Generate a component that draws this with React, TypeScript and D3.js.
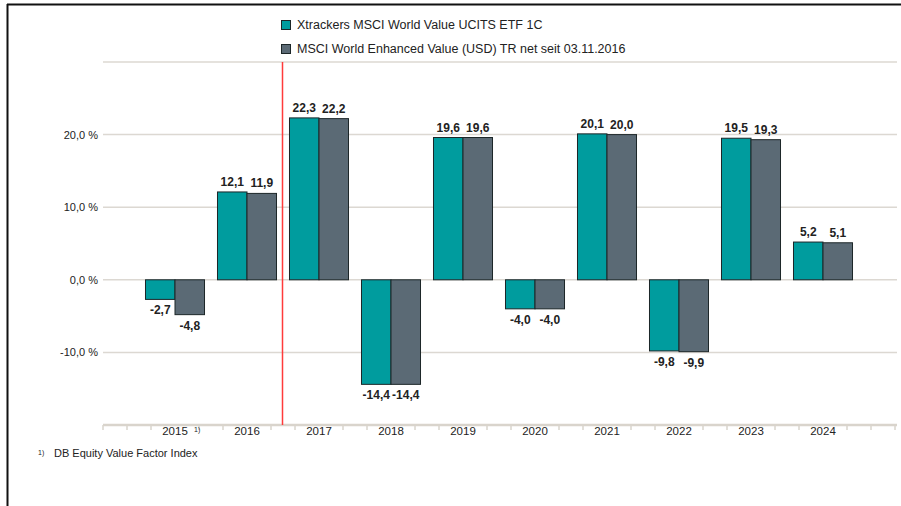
import React, { useRef, useEffect } from 'react';
import * as d3 from 'd3';

const years = ['2015', '2016', '2017', '2018', '2019', '2020', '2021', '2022', '2023', '2024'];
const etfValues = [-2.7, 12.1, 22.3, -14.4, 19.6, -4.0, 20.1, -9.8, 19.5, 5.2];
const indexValues = [-4.8, 11.9, 22.2, -14.4, 19.6, -4.0, 20.0, -9.9, 19.3, 5.1];
const seriesNames = [
  'Xtrackers MSCI World Value UCITS ETF 1C',
  'MSCI World Enhanced Value (USD) TR net seit 03.11.2016',
];
const colors = ['#009c9e', '#5b6a75'];
const yTicks = [-10, 0, 10, 20, 30];
const footnote = 'DB Equity Value Factor Index';

const fmt = (v: number) => v.toFixed(1).replace('.', ',');

const App = () => {
  const ref = useRef<SVGSVGElement>(null);

  useEffect(() => {
    const svg = d3.select(ref.current);
    svg.selectAll('*').remove();
    const font = 'Liberation Sans, Arial, sans-serif';

    const left = 103, right = 897;
    const y = d3.scaleLinear().domain([-20, 30]).range([425, 62]);
    const x0 = d3.scaleBand().domain(years).range([139, 859]).paddingInner(0).paddingOuter(0);
    const step = x0.step();
    const x1 = d3.scaleBand().domain(['0', '1']).range([0, step]).paddingOuter(0.22);

    // frame
    svg.append('line').attr('x1', 7).attr('x2', 901).attr('y1', 4.5).attr('y2', 4.5)
      .attr('stroke', '#111').attr('stroke-width', 2);
    svg.append('line').attr('x1', 7.5).attr('x2', 7.5).attr('y1', 4).attr('y2', 506)
      .attr('stroke', '#111').attr('stroke-width', 2);

    // gridlines
    svg.append('g').selectAll('line').data(yTicks).join('line')
      .attr('x1', left).attr('x2', right)
      .attr('y1', d => y(d)).attr('y2', d => y(d))
      .attr('stroke', '#dcd8d2').attr('stroke-width', 1.5);

    svg.append('g').selectAll('text').data(yTicks.filter(d => d < 30)).join('text')
      .attr('x', 98).attr('y', d => y(d) + 4)
      .attr('text-anchor', 'end')
      .attr('font-family', font).attr('font-size', 11).attr('fill', '#222')
      .text(d => `${fmt(d)} %`);

    // x axis
    const axisY = y(-20);
    svg.append('line').attr('x1', left).attr('x2', right).attr('y1', axisY).attr('y2', axisY)
      .attr('stroke', '#d9d4cc').attr('stroke-width', 2.5);
    const tickXs = d3.range(left, right + 1, step / 3)
      .filter((_, i) => i % 3 !== 0 || i === 0 || i >= 33);
    svg.append('g').selectAll('line').data(tickXs).join('line')
      .attr('x1', d => d).attr('x2', d => d)
      .attr('y1', axisY).attr('y2', axisY + 5)
      .attr('stroke', '#d9d4cc').attr('stroke-width', 1.5);

    svg.append('g').selectAll('text').data(years).join('text')
      .attr('x', d => (x0(d) as number) + step / 2).attr('y', axisY + 10)
      .attr('text-anchor', 'middle')
      .attr('font-family', font).attr('font-size', 11.5).attr('fill', '#222')
      .text(d => d);
    svg.append('text').attr('x', (x0('2015') as number) + step / 2 + 19).attr('y', axisY + 7)
      .attr('font-family', font).attr('font-size', 7).attr('fill', '#222').text('1)');

    // bars
    const series = [etfValues, indexValues];
    series.forEach((vals, si) => {
      const g = svg.append('g');
      g.selectAll('rect').data(vals).join('rect')
        .attr('x', (_, i) => (x0(years[i]) as number) + (x1(String(si)) as number))
        .attr('width', x1.bandwidth())
        .attr('y', d => y(Math.max(0, d)))
        .attr('height', d => Math.abs(y(d) - y(0)))
        .attr('fill', colors[si]).attr('stroke', '#1c2628').attr('stroke-width', 1);
      g.selectAll('text').data(vals).join('text')
        .attr('x', (_, i) => (x0(years[i]) as number) + (x1(String(si)) as number) + x1.bandwidth() / 2)
        .attr('y', d => (d >= 0 ? y(d) - 6 : y(d) + 15))
        .attr('text-anchor', 'middle')
        .attr('font-family', font).attr('font-size', 12).attr('font-weight', 'bold')
        .attr('fill', '#222')
        .text(d => fmt(d));
    });

    // red marker line between 2016 and 2017
    const redX = (x0('2017') as number) - 0.5;
    svg.append('line').attr('x1', redX).attr('x2', redX).attr('y1', y(30)).attr('y2', axisY)
      .attr('stroke', '#ff3b3b').attr('stroke-width', 1.5);

    // legend
    const lg = svg.append('g');
    seriesNames.forEach((name, i) => {
      lg.append('rect').attr('x', 281.5).attr('y', 20.5 + i * 24).attr('width', 9).attr('height', 9)
        .attr('fill', colors[i]).attr('stroke', '#1c2628').attr('stroke-width', 1);
      lg.append('text').attr('x', 297).attr('y', 29 + i * 24)
        .attr('font-family', font).attr('font-size', 12.5).attr('fill', '#222').text(name);
    });

    // footnote
    svg.append('text').attr('x', 38).attr('y', 455)
      .attr('font-family', font).attr('font-size', 7).attr('fill', '#222').text('1)');
    svg.append('text').attr('x', 54).attr('y', 457)
      .attr('font-family', font).attr('font-size', 11).attr('fill', '#222').text(footnote);
  }, []);

  return (
    <svg ref={ref} width={901} height={506}
      style={{ position: 'absolute', left: 0, top: 0, background: '#fff' }} />
  );
};

export default App;
